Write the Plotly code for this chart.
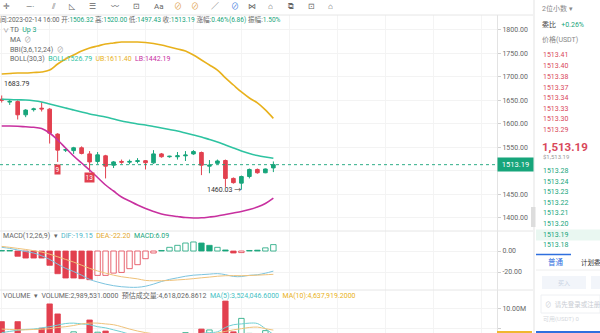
import plotly.graph_objects as go

# ---------------- data ----------------
idx = list(range(35))
open_ = [1652, 1646, 1647, 1619, 1630, 1633, 1631, 1578, 1544, 1543, 1549, 1536, 1520, 1532, 1512, 1520,
         1518.5, 1520, 1521.6, 1517, 1536, 1530, 1530, 1532, 1536, 1539, 1510, 1516, 1522, 1484, 1474,
         1488, 1503, 1496, 1506.32]
high = [1660, 1652, 1650, 1631, 1634, 1646, 1633, 1580, 1548, 1551, 1552, 1542, 1540, 1534, 1521, 1524,
        1524, 1527, 1523, 1544, 1538, 1532, 1540, 1542, 1544, 1541, 1523, 1524, 1524, 1486, 1490,
        1505, 1505, 1505, 1520.00]
low = [1645, 1640, 1609, 1614, 1626, 1626, 1558, 1519, 1540, 1536, 1535, 1498, 1515, 1484, 1506, 1515,
       1514, 1516, 1503, 1515, 1528, 1528, 1524, 1521, 1534, 1491, 1495, 1514, 1466, 1473, 1460.03,
       1484, 1494, 1495, 1497.43]
close = [1650, 1647.5, 1619, 1629, 1631.5, 1631.5, 1580, 1544, 1545, 1549, 1537, 1519, 1534, 1510, 1519,
         1518.5, 1520, 1521.5, 1517.3, 1536, 1530, 1531, 1532, 1533.5, 1541, 1512, 1512, 1521, 1484,
         1475, 1488, 1503, 1496, 1504, 1513.19]

boll_up = [1705.6, 1706.6, 1707.7, 1707.7, 1708.8, 1709.8, 1714, 1726.8, 1737.4, 1745.9, 1754.4, 1760.7,
           1765, 1769.2, 1771.4, 1773.5, 1773.5, 1773.5, 1772.4, 1770.3, 1767.1, 1762.9, 1758.6, 1754.4,
           1745.9, 1735.3, 1724.7, 1714, 1697.3, 1682.2, 1667.4, 1654.6, 1644.2, 1629.4, 1611.40]
boll_mid = [1651.9, 1651.4, 1650.8, 1650.4, 1648.9, 1646.2, 1641.9, 1637.7, 1633.4, 1629.2, 1624.9, 1620.7,
            1617.5, 1614.3, 1610.1, 1605.8, 1602.7, 1599.5, 1597.3, 1594.2, 1591, 1587.8, 1584.6, 1580.4,
            1576.1, 1571.9, 1566.6, 1561.3, 1554.9, 1548.5, 1542.2, 1536.9, 1532.6, 1529.4, 1526.79]
boll_low = [1595.2, 1595.2, 1594.6, 1593.5, 1592.5, 1589.9, 1580.4, 1565.5, 1548.5, 1531.6, 1516.7, 1501.9,
            1485.9, 1470, 1457.3, 1444.6, 1436.1, 1427.6, 1420.2, 1413.8, 1408.5, 1405.3, 1403.2, 1401.1,
            1400, 1400.4, 1402.1, 1404.2, 1407.4, 1410.6, 1413.8, 1418, 1423.3, 1430.8, 1442.19]

macd_hist = [0.5, 0.5, -5, -6.7, -6.7, -6.7, -13.6, -21.6, -25.7, -25.7, -26.3, -27.3, -23.2, -23.2, -21,
             -20.4, -16.8, -13, -7.3, -1.9, 0.5, 3.5, 5.4, 7.6, 8.6, 7.6, 5.4, 3.5, 1, -1.9, -1.5, 0.5, 0.8,
             3, 6.09]
macd_filled = [1, 1, 1, 1, 1, 1, 1, 1, 1, 1, 1, 1, 0, 0, 0, 0, 0, 0, 0, 0, 1, 0, 0, 0, 0, 1, 1, 0, 1, 1,
               0, 1, 1, 0, 0]
dif = [3.5, 2.5, 1.0, -0.5, -1.9, -4.5, -8, -12.5, -16.5, -19.5, -23, -27, -29.5, -31.5, -33, -34, -34.5,
       -34.5, -33.5, -31.5, -29, -27, -25.5, -24, -23, -22.5, -22, -21.5, -22.5, -24.2, -24.3, -23.1,
       -22.6, -21.1, -19.15]
dea = [4.4, 3.5, 2.5, 1.5, 0.3, -1, -3, -5.5, -8, -10.5, -13.5, -16.5, -19, -21, -23, -24.5, -25.5, -26.5,
       -28, -28.3, -28.3, -28, -27.5, -27, -26.3, -25.5, -24.8, -24, -23.5, -23.4, -23.5, -23.3, -23,
       -22.6, -22.2]

volume = [6.78e6, 3.0e6, 6.78e6, 3.5e6, 2.5e6, 5.1e6, 11.27e6, 8.73e6, 3.2e6, 4.2e6, 3.5e6, 7.2e6, 4.1e6,
          4.4e6, 3.0e6, 2.5e6, 2.2e6, 2.4e6, 3.1e6, 3.3e6, 2.6e6, 2.3e6, 2.5e6, 4.0e6, 3.5e6, 4.9e6,
          4.67e6, 3.5e6, 12.0e6, 4.2e6, 7.6e6, 3.8e6, 3.5e6, 4.5e6, 2.989531e6]
vol_ma5 = [4.0e6, 4.3e6, 4.6e6, 4.8e6, 4.9e6, 5.2e6, 5.5e6, 5.9e6, 6.3e6, 6.4e6, 6.2e6, 6.0e6, 5.5e6, 5.2e6,
           4.7e6, 4.2e6, 3.6e6, 3.2e6, 3.0e6, 2.9e6, 2.9e6, 3.0e6, 3.1e6, 3.3e6, 3.5e6, 3.8e6, 4.0e6, 4.2e6,
           5.3e6, 6.0e6, 6.2e6, 6.4e6, 6.3e6, 5.0e6, 3.524e6]
vol_ma10 = [4.9e6, 4.8e6, 4.7e6, 4.7e6, 4.8e6, 4.85e6, 5.0e6, 5.3e6, 5.5e6, 5.8e6, 6.2e6, 6.4e6, 6.4e6, 6.2e6,
            6.0e6, 5.5e6, 4.9e6, 4.4e6, 4.0e6, 3.7e6, 3.4e6, 3.2e6, 3.1e6, 3.1e6, 3.2e6, 3.4e6, 3.6e6, 3.9e6,
            4.3e6, 4.7e6, 5.0e6, 5.3e6, 5.4e6, 5.0e6, 4.638e6]

price_ticks = [1400, 1450, 1500, 1550, 1600, 1650, 1700, 1750, 1800]
price_ticktext = ["1400.00", "1450.00", "", "1550.00", "1600.00", "1650.00", "1700.00", "1750.00", "1800.00"]
macd_ticks = [0, -20]
macd_ticktext = ["0.00", "-20.00"]
vol_ticks = [5e6, 10e6]
vol_ticktext = ["5.00M", "10.00M"]

asks = ["1513.41", "1513.40", "1513.38", "1513.37", "1513.34", "1513.33", "1513.30", "1513.29"]
bids = ["1513.28", "1513.24", "1513.23", "1513.22", "1513.21", "1513.20", "1513.19", "1513.18"]
last_price = 1513.19

# ---------------- style ----------------
GREEN = "#17a57b"
RED = "#e2404f"
UPC = "#e8b11c"
MIDC = "#2ec3a1"
LOWC = "#c8309f"
DIFC = "#7cc4df"
DEAC = "#efc27a"
FONT = "Roboto, 'Noto Sans CJK SC', sans-serif"
W, H = 600, 333
PX_RIGHT = 497


def px(xp):
    return xp / W


def py(yp):
    return 1 - yp / H


fig = go.Figure()

fig.add_trace(go.Candlestick(
    x=idx, open=open_, high=high, low=low, close=close,
    increasing=dict(line=dict(color=GREEN, width=1), fillcolor=GREEN),
    decreasing=dict(line=dict(color=RED, width=1), fillcolor=RED),
    whiskerwidth=0, xaxis="x", yaxis="y", showlegend=False, hoverinfo="skip"))

for series, col in [(boll_up, UPC), (boll_mid, MIDC), (boll_low, LOWC)]:
    fig.add_trace(go.Scatter(x=idx, y=series, mode="lines", line=dict(color=col, width=1.6, shape="spline"),
                             xaxis="x", yaxis="y", showlegend=False, hoverinfo="skip"))

# MACD
mfill, mline = [], []
for v, f in zip(macd_hist, macd_filled):
    c = GREEN if v >= 0 else RED
    mline.append(c)
    mfill.append(c if f else "white")
fig.add_trace(go.Bar(x=idx, y=macd_hist, width=0.68, marker=dict(color=mfill, line=dict(color=mline, width=0.8)),
                     xaxis="x", yaxis="y2", showlegend=False, hoverinfo="skip"))
fig.add_trace(go.Scatter(x=idx, y=dif, mode="lines", line=dict(color=DIFC, width=1, shape="spline"),
                         xaxis="x", yaxis="y2", showlegend=False, hoverinfo="skip"))
fig.add_trace(go.Scatter(x=idx, y=dea, mode="lines", line=dict(color=DEAC, width=1, shape="spline"),
                         xaxis="x", yaxis="y2", showlegend=False, hoverinfo="skip"))

# Volume
vfill, vline = [], []
for o, c in zip(open_, close):
    if c >= o:
        vfill.append("white"); vline.append(GREEN)
    else:
        vfill.append(RED); vline.append(RED)
fig.add_trace(go.Bar(x=idx, y=volume, width=0.68, marker=dict(color=vfill, line=dict(color=vline, width=0.8)),
                     xaxis="x", yaxis="y3", showlegend=False, hoverinfo="skip"))
fig.add_trace(go.Scatter(x=idx, y=vol_ma5, mode="lines", line=dict(color="#6fcfd3", width=1, shape="spline"),
                         xaxis="x", yaxis="y3", showlegend=False, hoverinfo="skip"))
fig.add_trace(go.Scatter(x=idx, y=vol_ma10, mode="lines", line=dict(color=DEAC, width=1, shape="spline"),
                         xaxis="x", yaxis="y3", showlegend=False, hoverinfo="skip"))

spacing = 7.99
x0 = -1.7 / spacing
x1 = x0 + PX_RIGHT / spacing

axis_common = dict(side="right", anchor="x", showline=True, linecolor="#e3e3e3", linewidth=1,
                   ticks="outside", ticklen=3, tickcolor="#d0d0d0", tickfont=dict(size=7, color="#666"),
                   showgrid=True, gridcolor="#f3f3f3", zeroline=False, fixedrange=True)

fig.update_layout(
    width=W, height=H, margin=dict(l=0, r=0, t=0, b=0),
    paper_bgcolor="white", plot_bgcolor="white",
    font=dict(family=FONT, size=7, color="#555"),
    barmode="overlay", boxgap=0.35,
    xaxis=dict(domain=[0, PX_RIGHT / W], range=[x0, x1], showticklabels=False, ticks="",
               showgrid=True, gridcolor="#f4f4f4", tick0=0, dtick=6, zeroline=False,
               rangeslider=dict(visible=False), anchor="y3", fixedrange=True),
    yaxis=dict(domain=[py(231), py(15)], range=[1372.4, 1830.8], tickvals=price_ticks,
               ticktext=price_ticktext, **axis_common),
    yaxis2=dict(domain=[py(290), py(231)], range=[-37.1, 19.05], tickvals=macd_ticks,
                ticktext=macd_ticktext, **axis_common),
    yaxis3=dict(domain=[0, py(290)], range=[3.9e6, 14.8e6], tickvals=vol_ticks,
                ticktext=vol_ticktext, **axis_common),
)

shapes = []
# price dashed line
shapes.append(dict(type="line", xref="paper", yref="y", x0=0, x1=px(PX_RIGHT), y0=last_price, y1=last_price,
                   line=dict(color=GREEN, width=0.9, dash="3px,3px")))
# panel separators
for yy in (15, 231, 290):
    shapes.append(dict(type="line", xref="paper", yref="paper", x0=0, x1=px(533), y0=py(yy), y1=py(yy),
                       line=dict(color="#e6e6e6", width=1)))
# right panel border
shapes.append(dict(type="line", xref="paper", yref="paper", x0=px(534), x1=px(534), y0=0, y1=1,
                   line=dict(color="#ececec", width=1.5)))
# scroll handle
shapes.append(dict(type="rect", xref="paper", yref="paper", x0=px(531), x1=px(535.5), y0=py(227), y1=py(207),
                   fillcolor="#dddddd", line=dict(width=0)))
# MA10 tag at bottom of volume axis
shapes.append(dict(type="rect", xref="paper", yref="paper", x0=px(497), x1=px(532), y0=0, y1=py(331),
                   fillcolor="#f0b72f", line=dict(width=0)))
# highlighted bid row
shapes.append(dict(type="rect", xref="paper", yref="paper", x0=px(536), x1=1, y0=py(240.5), y1=py(229.5),
                   fillcolor="#e9f7f1", line=dict(width=0), layer="below"))
# tabs
shapes.append(dict(type="line", xref="paper", yref="paper", x0=px(536), x1=px(571), y0=py(254.5), y1=py(254.5),
                   line=dict(color="#2f6fde", width=1.5)))
shapes.append(dict(type="line", xref="paper", yref="paper", x0=px(536), x1=1, y0=py(270), y1=py(270),
                   line=dict(color="#eeeeee", width=1)))
shapes.append(dict(type="rect", xref="paper", yref="paper", x0=px(542), x1=px(586), y0=py(289), y1=py(276),
                   fillcolor="#f2f5fa", line=dict(width=0)))
shapes.append(dict(type="rect", xref="paper", yref="paper", x0=px(591), x1=1, y0=py(289), y1=py(276),
                   fillcolor="#f2f5fa", line=dict(width=0)))
shapes.append(dict(type="rect", xref="paper", yref="paper", x0=px(541), x1=1, y0=py(313), y1=py(295),
                   fillcolor="#ffffff", line=dict(color="#eef0f3", width=1)))
shapes.append(dict(type="rect", xref="paper", yref="paper", x0=px(536), x1=1, y0=0, y1=py(331),
                   fillcolor="#2f6fde", line=dict(width=0)))
fig.update_layout(shapes=shapes)

ann = []


def txt(x, y, s, color="#555", size=7, anchor="left", **kw):
    d = dict(x=px(x), y=py(y), xref="paper", yref="paper", text=s, showarrow=False, xanchor=anchor,
             yanchor="middle", font=dict(size=size, color=color, family=FONT), borderpad=0)
    d.update(kw)
    ann.append(d)


def g(s):
    return "<span style='color:%s'>%s</span>" % (GREEN, s)


# toolbar glyphs
tool = [(2, "✛"), (25, "—·"), (50, "⫽"), (68, "◺"), (88, "☰"), (110, "〰"), (132, "⊡"), (153, "Aa"),
        (173, "⊘"), (190, "⊘"), (210, "∕"), (230, "⊘"), (247, "⋈"), (267, "⌂"), (287, "⧉"), (307, "⊡"), (327, "⌂")]
for x, s in tool:
    col = "#e0a04a" if x in (173, 190) else ("#3f7fe0" if x == 230 else "#666")
    txt(x, 6, s, color=col, size=8)

# info line
txt(-1, 19, "间:2023-02-14 16:00 开:" + g("1506.32") + " 高:" + g("1520.00") + " 低:" + g("1497.43") +
    " 收:" + g("1513.19") + " 涨幅:" + g("0.46%(6.86)") + " 振幅:" + g("1.50%"), color="#666", size=6.6)

# indicator legend
txt(2, 30, "∨", color="#888", size=6)
txt(9, 30, "TD  " + g("Up 3"), color="#666", size=7)
txt(9, 40, "MA  <span style='color:#999'>⊘</span>", color="#666", size=7)
txt(9, 49.5, "BBI(3,6,12,24)  <span style='color:#999'>⊘</span>", color="#666", size=7)
txt(9, 59, "BOLL(30,3)  <span style='color:%s'>BOLL:1526.79</span>  <span style='color:%s'>UB:1611.40</span>  "
    "<span style='color:%s'>LB:1442.19</span>" % (MIDC, UPC, LOWC), color="#666", size=7)

# MACD and volume legends
txt(2, 235.5, "MACD(12,26,9)  ▾  <span style='color:#4db6c9'>DIF:-19.15</span>  "
    "<span style='color:#e3a92e'>DEA:-22.20</span>  <span style='color:%s'>MACD:6.09</span>" % GREEN,
    color="#666", size=7)
txt(2, 295.5, "VOLUME  ▾  VOLUME:2,989,531.0000  预估成交量:4,618,026.8612  "
    "<span style='color:#45bfc4'>MA(5):3,524,046.6000</span>  <span style='color:#e9b21b'>MA(10):4,637,919.2000</span>",
    color="#666", size=7)

# chart markers
ann.append(dict(x=0.0, xref="x", y=1683.79, yref="y", text="1683.79", showarrow=False, xanchor="left",
                yanchor="middle", font=dict(size=7, color="#333", family=FONT)))
ann.append(dict(x=30.15, xref="x", y=1460.03, yref="y", text="1460.03 →", showarrow=False, xanchor="right",
                yanchor="middle", font=dict(size=7, color="#333", family=FONT)))
for i, lab, yv in [(7, "9", 1501.9), (11, "13", 1484.9)]:
    ann.append(dict(x=i, xref="x", y=yv, yref="y", text=lab, showarrow=False, xanchor="center",
                    yanchor="middle", font=dict(size=6.5, color="white", family=FONT), bgcolor=RED,
                    borderpad=0.5))

# price tag
ann.append(dict(x=px(PX_RIGHT), xref="paper", y=last_price, yref="y", text="1513.19", showarrow=False,
                xanchor="left", yanchor="middle", font=dict(size=7.5, color="white", family=FONT),
                bgcolor=GREEN, borderpad=2, width=31))

# order book panel
txt(541, 8, "2位小数 ▾", color="#888", size=7)
txt(541, 24, "委比   <span style='color:%s'>+0.26%%</span>" % GREEN, color="#444", size=7)
txt(541, 39, "价格(USDT)", color="#888", size=7)
ask_y = [55, 66, 77, 87.7, 98.5, 109, 119.5, 130]
for yv, s in zip(ask_y, asks):
    txt(542, yv, s, color="#d9475a", size=7)
ann.append(dict(x=px(541), y=py(147), xref="paper", yref="paper", text="<b>1,513.19</b>", showarrow=False,
                xanchor="left", yanchor="middle", font=dict(size=11.5, color="#d9475a", family=FONT),
                borderpad=0))
txt(542, 156.5, "$1,513.19", color="#999", size=6)
bid_y = [171, 181.7, 192.3, 203, 213.3, 224, 235, 245.3]
for yv, s in zip(bid_y, bids):
    txt(542, yv, s, color=GREEN, size=7)
txt(547, 262, "普通", color="#2f6fde", size=7.5)
txt(580, 262, "计划委", color="#333", size=6.5)
txt(557, 282.5, "买入", color="#c9d3e3", size=6)
txt(544, 304, "⊘  请先登录或注册", color="#c7cbd2", size=6.5)
txt(542, 319, "可用(USDT) 0", color="#d5d8dd", size=6)

fig.update_layout(annotations=ann)

fig.write_html("out.html")
